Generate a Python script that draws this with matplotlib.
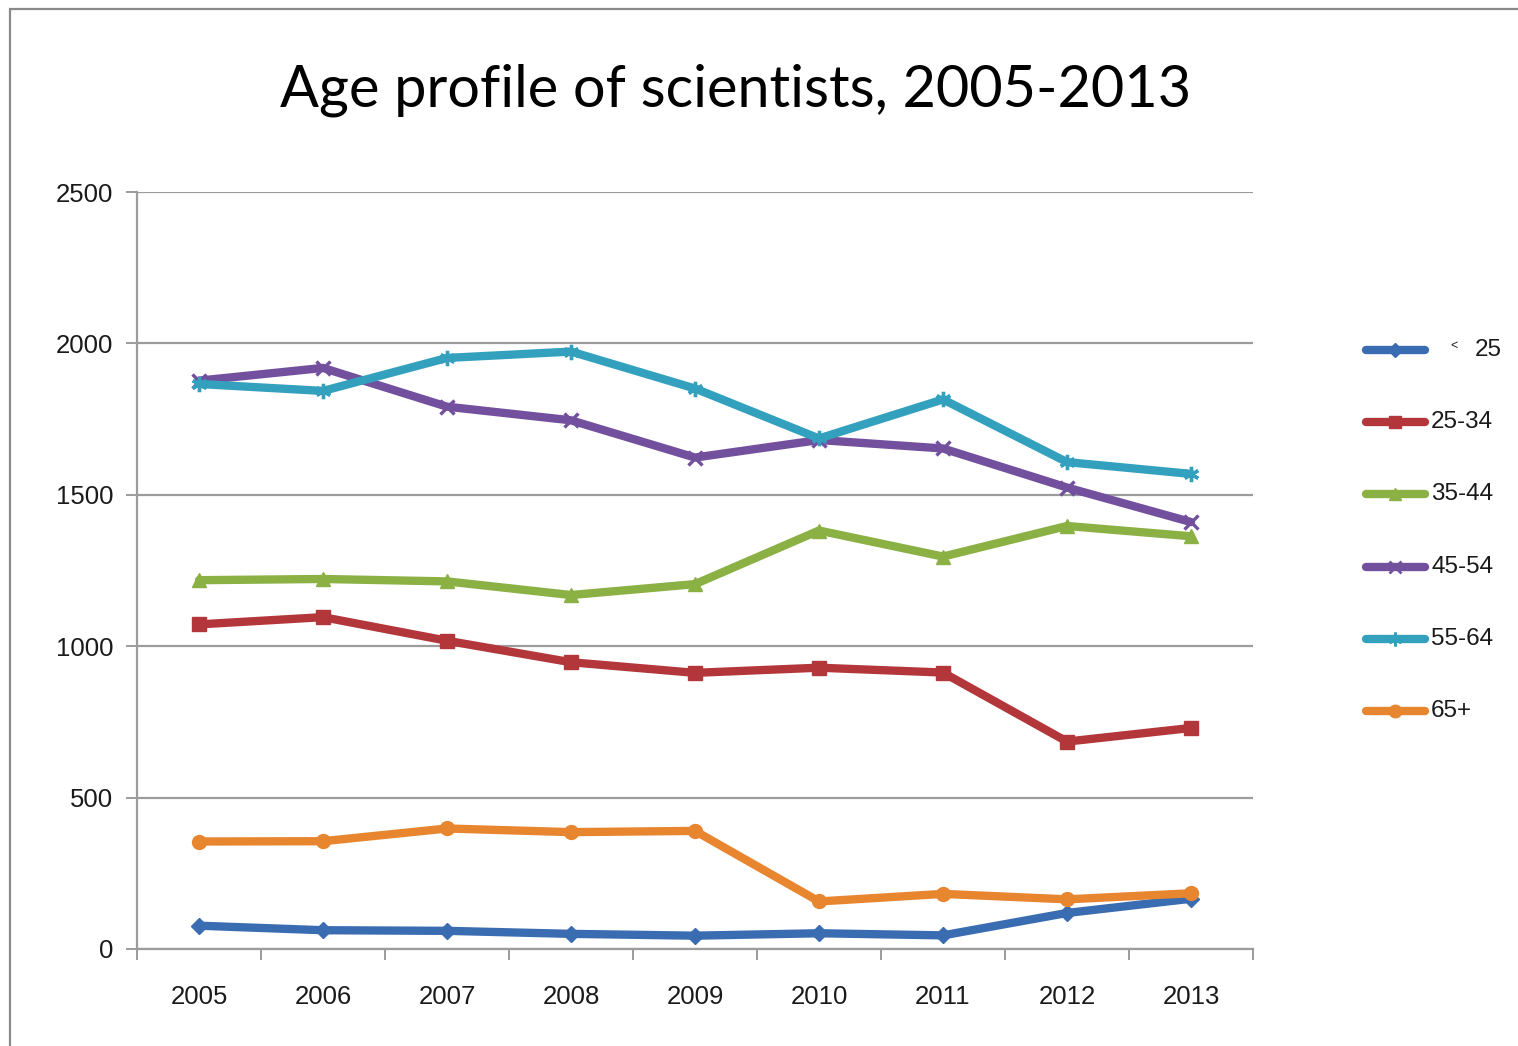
import matplotlib
matplotlib.use("Agg")
import matplotlib.pyplot as plt
from matplotlib.lines import Line2D
from matplotlib.patches import Rectangle
import numpy as np

# Data: number of scientists by age group
years = ["2005", "2006", "2007", "2008", "2009", "2010", "2011", "2012", "2013"]
series_labels = ["< 25", "25-34", "35-44", "45-54", "55-64", "65+"]
under_25 = [77, 62, 60, 50, 44, 52, 45, 119, 166]
age_25_34 = [1072, 1096, 1018, 947, 912, 929, 913, 685, 730]
age_35_44 = [1218, 1222, 1214, 1169, 1205, 1382, 1296, 1397, 1363]
age_45_54 = [1877, 1919, 1791, 1746, 1623, 1681, 1653, 1524, 1410]
age_55_64 = [1866, 1843, 1952, 1973, 1851, 1686, 1815, 1608, 1569]
age_65_plus = [355, 356, 398, 386, 390, 157, 182, 164, 184]

series = [under_25, age_25_34, age_35_44, age_45_54, age_55_64, age_65_plus]
colors = ["#3A6CB2", "#B3373A", "#8BB043", "#72509D", "#33A1BE", "#E8852F"]
markers = ["D", "s", "^", "x", (6, 2, 0), "o"]
msizes = [8, 10, 10, 10, 11, 10]

W, H = 1518, 1046
DPI = 100
fig = plt.figure(figsize=(W / DPI, H / DPI), dpi=DPI)
fig.patch.set_facecolor("white")

tick_font = ["Liberation Sans", "DejaVu Sans"]
gray = "#9c9c9c"
text_color = "#1a1a1a"

# outer frame of the chart object (only left and top edges are visible)
fig.patches.append(Rectangle((10 / W, -0.05), 1.2, 1.05 - 9 / H, transform=fig.transFigure,
                             fill=False, edgecolor="#8a8a8a", linewidth=1.6, zorder=0))

ax = fig.add_axes([137 / W, 1 - 949 / H, (1253 - 137) / W, (949 - 192) / H])
x = np.arange(len(years))


def thin_marker(m):
    return m == "x" or isinstance(m, tuple)


for vals, c, m, ms in zip(series, colors, markers, msizes):
    ax.plot(x, vals, color=c, linewidth=6.0, marker=m, markersize=ms,
            markeredgewidth=2.4 if thin_marker(m) else 1,
            markerfacecolor=c, markeredgecolor=c, solid_capstyle="round",
            solid_joinstyle="round", zorder=3)

ax.set_xlim(-0.5, len(years) - 0.5)
ax.set_ylim(0, 2500)
ax.set_yticks(np.arange(0, 2501, 500))
ax.set_xticks(x)
ax.set_xticklabels(years)
ax.set_xticks(np.arange(-0.5, len(years), 1.0), minor=True)

ax.grid(axis="y", color=gray, linewidth=1.6, zorder=1)
ax.set_axisbelow(True)
for s in ("top", "right"):
    ax.spines[s].set_visible(False)
for s in ("left", "bottom"):
    ax.spines[s].set_color(gray)
    ax.spines[s].set_linewidth(1.6)

ax.tick_params(axis="x", which="major", length=0, pad=26)
ax.tick_params(axis="x", which="minor", length=8, width=1.4, color=gray, direction="out")
ax.tick_params(axis="y", length=8, width=1.4, color=gray, direction="out", pad=9)
for lab in ax.get_xticklabels() + ax.get_yticklabels():
    lab.set_fontfamily(tick_font)
    lab.set_fontsize(18.5)
    lab.set_color(text_color)

fig.text(736 / W, 1 - 90 / H, "Age profile of scientists, 2005-2013", ha="center", va="center",
         fontsize=41.5, family=["Lato", "DejaVu Sans"], color="black")

# legend drawn at the right of the plot area
leg_y = [350, 422, 494, 567, 639, 711]
for i, (lab, c, m, ms) in enumerate(zip(series_labels, colors, markers, msizes)):
    yf = 1 - leg_y[i] / H
    fig.add_artist(Line2D([1366 / W, 1425 / W], [yf, yf], transform=fig.transFigure,
                          color=c, linewidth=6.0, solid_capstyle="round"))
    fig.add_artist(Line2D([1395 / W], [yf], transform=fig.transFigure, color=c,
                          marker=m, markersize=ms * 0.9, markerfacecolor=c, markeredgecolor=c,
                          markeredgewidth=2 if thin_marker(m) else 1,
                          linestyle="none"))
    if i == 0:
        fig.text(1450 / W, 1 - 346 / H, "<", fontsize=9, family=tick_font, color=text_color,
                 ha="left", va="center")
        fig.text(1475 / W, yf, "25", fontsize=17.5, family=tick_font, color=text_color,
                 ha="left", va="center")
    else:
        fig.text(1431 / W, yf, lab, fontsize=17.5, family=tick_font, color=text_color,
                 ha="left", va="center")

fig.savefig("out.png", dpi=DPI)
